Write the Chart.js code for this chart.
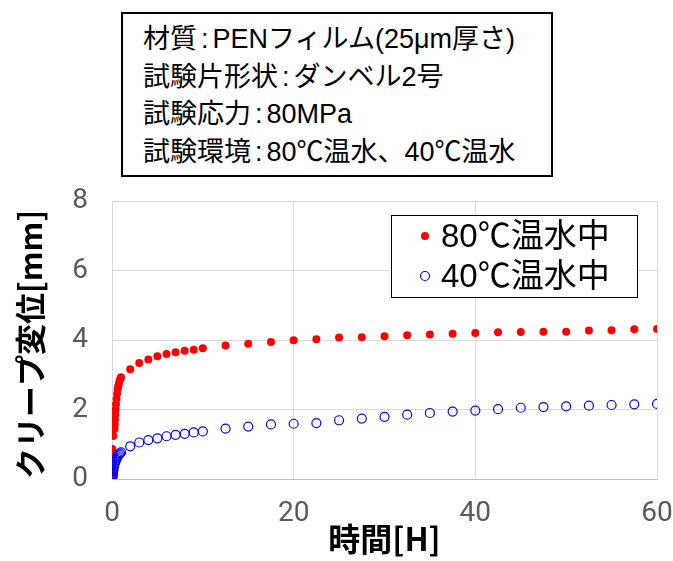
<!DOCTYPE html>
<html>
<head>
<meta charset="utf-8">
<script src="https://cdn.jsdelivr.net/npm/chart.js@4/dist/chart.umd.min.js"></script>
<style>
  html, body { margin: 0; padding: 0; background: #fff; }
  #wrap { position: relative; width: 673px; height: 561px; }
  #c { position: absolute; left: 0; top: 0; }
  #info {
    position: absolute; left: 121px; top: 12px; width: 408px; height: 154px;
    border: 2px solid #000; background: #fff;
    font-family: "Liberation Sans", "Noto Sans CJK JP", sans-serif;
    font-size: 27px; color: #000; line-height: 37.5px;
    padding: 7px 0 0 20px; box-sizing: content-box; white-space: nowrap;
  }
  #info .col { margin: 0 4px; }
</style>
</head>
<body>
<div id="wrap">
  <canvas id="c" width="673" height="561"></canvas>
  <div id="info">
    <div>材質<span class="col">:</span>PENフィルム(25μm厚さ)</div>
    <div>試験片形状<span class="col">:</span>ダンベル2号</div>
    <div>試験応力<span class="col">:</span>80MPa</div>
    <div>試験環境<span class="col">:</span>80℃温水、40℃温水</div>
  </div>
</div>
<script>
// ---- data ----
const seriesNames = ['80℃温水中', '40℃温水中'];

const hours80 = [0, 0.01, 0.01, 0.01, 0.02, 0.02, 0.02, 0.03, 0.03, 0.04,
  0.15, 0.27, 0.30, 0.33, 0.36, 0.40, 0.44, 0.50, 0.56, 0.63, 0.70, 0.78, 0.87, 0.95, 1.0,
  2, 3, 4, 5, 6, 7, 8, 9, 10,
  12.5, 15, 17.5, 20, 22.5, 25, 27.5, 30, 32.5, 35, 37.5, 40, 42.5, 45, 47.5, 50, 52.5, 55, 57.5, 60];
const disp80 = [0.0, 0.1, 0.2, 0.3, 0.4, 0.5, 0.6, 0.7, 0.78, 0.86,
  1.24, 1.44, 1.56, 1.70, 1.85, 2.00, 2.15, 2.30, 2.45, 2.58, 2.68, 2.77, 2.85, 2.90, 2.93,
  3.16, 3.34, 3.44, 3.53, 3.60, 3.65, 3.69, 3.72, 3.76,
  3.84, 3.89, 3.94, 3.99, 4.02, 4.07, 4.08, 4.11, 4.14, 4.16, 4.18, 4.20, 4.22, 4.23, 4.24, 4.24, 4.27, 4.28, 4.31, 4.32];

const hours40 = [0, 0.01, 0.02, 0.04, 0.06, 0.08, 0.10, 0.13, 0.16, 0.20, 0.25, 0.30, 0.36, 0.43, 0.52, 0.62, 0.75, 0.88, 1.0,
  2, 3, 4, 5, 6, 7, 8, 9, 10,
  12.5, 15, 17.5, 20, 22.5, 25, 27.5, 30, 32.5, 35, 37.5, 40, 42.5, 45, 47.5, 50, 52.5, 55, 57.5, 60];
const disp40 = [0.0, 0.02, 0.04, 0.07, 0.10, 0.14, 0.18, 0.23, 0.28, 0.34, 0.40, 0.45, 0.50, 0.55, 0.60, 0.65, 0.70, 0.74, 0.77,
  0.94, 1.05, 1.12, 1.17, 1.23, 1.27, 1.30, 1.34, 1.37,
  1.45, 1.51, 1.57, 1.59, 1.61, 1.69, 1.74, 1.79, 1.85, 1.90, 1.94, 1.97, 2.01, 2.05, 2.07, 2.09, 2.11, 2.13, 2.15, 2.16];

const xTicks = [0, 20, 40, 60];
const yTicks = [0, 2, 4, 6, 8];
const xTitle = '時間[H]';
const yTitle = 'クリープ変位[mm]';

// ---- build ----
const toPts = (xs, ys) => xs.map((x, i) => ({ x: x, y: ys[i] }));
const jpFont = '"Liberation Sans", "Noto Sans CJK JP", sans-serif';

const legendPlugin = {
  id: 'boxLegend',
  afterDraw(chart) {
    const ctx = chart.ctx;
    const L = 391, T = 215, W = 246, H = 82;
    ctx.save();
    ctx.fillStyle = '#fff';
    ctx.fillRect(L, T, W, H);
    ctx.strokeStyle = '#000';
    ctx.lineWidth = 1;
    ctx.strokeRect(L + 0.5, T + 0.5, W, H);
    ctx.font = '33px ' + jpFont;
    ctx.textBaseline = 'middle';
    ctx.textAlign = 'left';
    chart.data.datasets.forEach((ds, i) => {
      const cy = T + 21 + i * 40;
      ctx.beginPath();
      ctx.arc(425, cy, ds.pointRadius, 0, Math.PI * 2);
      ctx.fillStyle = ds.pointBackgroundColor;
      ctx.fill();
      if (ds.pointBorderWidth > 0) {
        ctx.lineWidth = ds.pointBorderWidth;
        ctx.strokeStyle = ds.pointBorderColor;
        ctx.stroke();
      }
      ctx.fillStyle = '#000';
      ctx.fillText(ds.label, 441, cy + 1.5);
    });
    ctx.restore();
  }
};

new Chart(document.getElementById('c'), {
  type: 'scatter',
  data: {
    datasets: [
      {
        label: seriesNames[0],
        data: toPts(hours80, disp80),
        pointRadius: 4,
        pointBackgroundColor: '#ff0000',
        pointBorderColor: '#ff0000',
        pointBorderWidth: 0,
        order: 2
      },
      {
        label: seriesNames[1],
        data: toPts(hours40, disp40),
        pointRadius: 4.5,
        pointBackgroundColor: 'rgba(255,255,255,0)',
        pointBorderColor: '#0000ff',
        pointBorderWidth: 1.2,
        order: 1
      }
    ]
  },
  options: {
    responsive: false,
    animation: false,
    devicePixelRatio: 1,
    layout: { padding: { top: 201, right: 16, bottom: 0, left: 0 } },
    plugins: { legend: { display: false }, tooltip: { enabled: false } },
    scales: {
      x: {
        type: 'linear', min: 0, max: 60,
        afterBuildTicks: s => { s.ticks = xTicks.map(v => ({ value: v })); },
        afterFit: s => { s.height = 82; s.paddingLeft = 0; s.paddingRight = 0; },
        ticks: { color: '#595959', padding: 18, font: { family: 'Roboto', size: 28 } },
        grid: { color: '#d9d9d9', drawTicks: false },
        border: { color: '#bfbfbf' },
        title: { display: true, text: xTitle, color: '#000', padding: { top: 0, bottom: 3 },
                 font: { family: '"Noto Sans CJK JP"', size: 32, weight: 'bold' } }
      },
      y: {
        min: 0, max: 8,
        afterBuildTicks: s => { s.ticks = yTicks.map(v => ({ value: v })); },
        afterFit: s => { s.width = 112; s.paddingTop = 0; s.paddingBottom = 0; },
        ticks: { color: '#595959', padding: 24, font: { family: 'Roboto', size: 28 } },
        grid: { color: '#d9d9d9', drawTicks: false },
        border: { color: '#d9d9d9' },
        title: { display: true, text: yTitle, color: '#000', align: 'start', padding: { top: 12, bottom: 0 },
                 font: { family: '"Noto Sans CJK JP"', size: 31, weight: 'bold' } }
      }
    }
  },
  plugins: [legendPlugin]
});
</script>
</body>
</html>
